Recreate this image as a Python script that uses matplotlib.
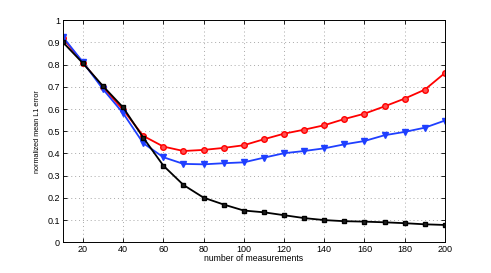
import matplotlib
matplotlib.use("Agg")
import matplotlib.pyplot as plt

plt.rcParams['font.family'] = ['Liberation Sans', 'DejaVu Sans']

measurements = [10, 20, 30, 40, 50, 60, 70, 80, 90, 100,
                110, 120, 130, 140, 150, 160, 170, 180, 190, 200]
red_err = [0.919, 0.809, 0.698, 0.596, 0.479, 0.431, 0.411, 0.416, 0.425, 0.437,
           0.464, 0.489, 0.507, 0.527, 0.555, 0.579, 0.612, 0.647, 0.687, 0.762]
blue_err = [0.925, 0.811, 0.689, 0.581, 0.446, 0.383, 0.353, 0.351, 0.356, 0.360,
            0.381, 0.401, 0.411, 0.423, 0.441, 0.456, 0.482, 0.497, 0.516, 0.548]
black_err = [0.901, 0.806, 0.703, 0.607, 0.471, 0.345, 0.258, 0.201, 0.170, 0.143,
             0.135, 0.122, 0.109, 0.100, 0.095, 0.093, 0.090, 0.086, 0.081, 0.078]

xticks = [20, 40, 60, 80, 100, 120, 140, 160, 180, 200]
yticks = [0, 0.1, 0.2, 0.3, 0.4, 0.5, 0.6, 0.7, 0.8, 0.9, 1]

fig = plt.figure(figsize=(4.91, 2.73), dpi=100)
ax = fig.add_axes([0.128, 0.1125, 0.778, 0.8135])

ax.plot(measurements, red_err, '-o', color='#ff0000', lw=1.3, ms=4,
        mfc='#ff5050', mec='#ff0000', mew=1.0)
ax.plot(measurements, blue_err, '-v', color='#1f3fff', lw=1.3, ms=4.5,
        mfc='#1f3fff', mec='#1f3fff')
ax.plot(measurements, black_err, '-s', color='black', lw=1.3, ms=3.5,
        mfc='#202020', mec='black')

ax.set_xlim(10, 200)
ax.set_ylim(0, 1)
ax.set_xticks(xticks)
ax.set_yticks(yticks)
ax.set_yticklabels([f"{t:g}" for t in yticks])
ax.tick_params(direction='in', labelsize=6.5, length=3, width=0.6,
               top=True, right=True, pad=2)
ax.grid(True, linestyle=(0, (1, 3)), color='#a8a8a8', linewidth=0.7)
for s in ax.spines.values():
    s.set_linewidth(0.7)

ax.set_xlabel("number of measurements", fontsize=6.2, labelpad=0)
ax.set_ylabel("normalized mean L1 error", fontsize=5.2, labelpad=5)

fig.savefig("out.png", dpi=100)
